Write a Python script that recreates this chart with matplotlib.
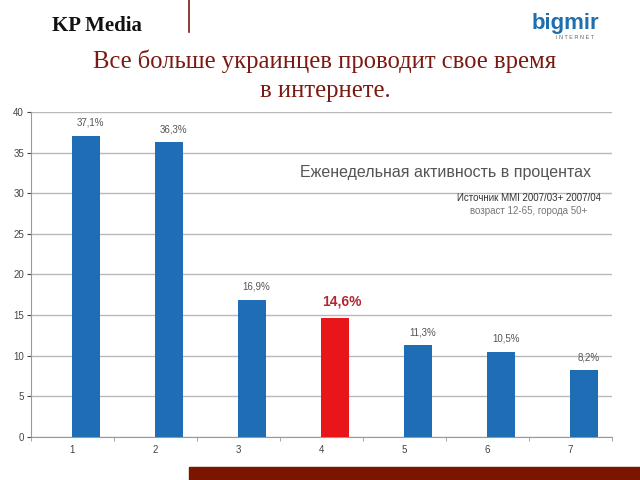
import matplotlib.pyplot as plt
import matplotlib.patches as patches
import numpy as np

# данные
categories = ['1', '2', '3', '4', '5', '6', '7']
values = [37.1, 36.3, 16.9, 14.6, 11.3, 10.5, 8.2]
labels = ['37,1%', '36,3%', '16,9%', '14,6%', '11,3%', '10,5%', '8,2%']
highlight = 3

blue = '#1f6db4'
red = '#e8161a'
dark_red = '#7a1a12'

fig = plt.figure(figsize=(6.4, 4.8), dpi=100)
ax = fig.add_axes([0.0484, 0.0896, 0.9076, 0.6771])

x = np.arange(len(categories))
colors = [red if i == highlight else blue for i in range(len(values))]
ax.bar(x, values, width=0.33, align='edge', color=colors, zorder=3)

for i, (v, lab) in enumerate(zip(values, labels)):
    if i == highlight:
        ax.text(i + 0.25, v + 2.1, lab, ha='center', va='center', fontsize=10,
                color='#b02a35', fontweight='bold', family='Liberation Sans')
    else:
        ax.text(i + 0.22, v + 1.6, lab, ha='center', va='center', fontsize=7,
                color='#555555', family='Liberation Sans')

ax.set_xlim(-0.5, len(categories) - 0.5)
ax.set_ylim(0, 40)
ax.set_yticks(range(0, 41, 5))
ax.set_xticks(x)
ax.set_xticklabels(categories)
ax.set_xticks(np.arange(-0.5, len(categories)), minor=True)
ax.tick_params(axis='x', which='major', length=0, labelsize=7, colors='#444444', pad=6)
ax.tick_params(axis='x', which='minor', length=3, color='#999999')
ax.tick_params(axis='y', length=3, labelsize=7, colors='#444444', pad=2)
for t in ax.get_xticklabels() + ax.get_yticklabels():
    t.set_family('Liberation Sans')
ax.yaxis.grid(True, color='#b8b8b8', linewidth=1, zorder=0)
for s in ['top', 'right']:
    ax.spines[s].set_visible(False)
ax.spines['left'].set_color('#999999')
ax.spines['bottom'].set_color('#999999')

ax.text(0.714, 0.815, 'Еженедельная активность в процентах', transform=ax.transAxes,
        ha='center', va='center', fontsize=11.5, color='#555555', family='Liberation Sans')
ax.text(0.857, 0.735, 'Источник MMI 2007/03+ 2007/04', transform=ax.transAxes,
        ha='center', va='center', fontsize=7, color='#333333', family='Liberation Sans')
ax.text(0.857, 0.695, 'возраст 12-65, города 50+', transform=ax.transAxes,
        ha='center', va='center', fontsize=7, color='#777777', family='Liberation Sans')

# заголовок и оформление слайда
fig.text(0.508, 0.873, 'Все больше украинцев проводит свое время', ha='center', va='center',
         fontsize=17.7, color=dark_red, family='Liberation Serif')
fig.text(0.508, 0.810, 'в интернете.', ha='center', va='center',
         fontsize=17.7, color=dark_red, family='Liberation Serif')
fig.text(0.081, 0.945, 'KP Media', ha='left', va='center', fontsize=15,
         fontweight='bold', color='#111111', family='Liberation Serif')
fig.add_artist(plt.Line2D([0.295, 0.295], [0.933, 1.0], color=dark_red, linewidth=1.2))
fig.text(0.83, 0.952, 'bigmir', ha='left', va='center', fontsize=16,
         fontweight='bold', color='#1e6fb0', family='Liberation Sans')
fig.text(0.868, 0.921, 'I N T E R N E T', ha='left', va='center', fontsize=4,
         color='#666666', family='Liberation Sans')
fig.add_artist(patches.Rectangle((0.295, 0.0), 0.705, 0.027, transform=fig.transFigure,
                                 color='#7a1500'))

fig.savefig('out.png', dpi=100)
